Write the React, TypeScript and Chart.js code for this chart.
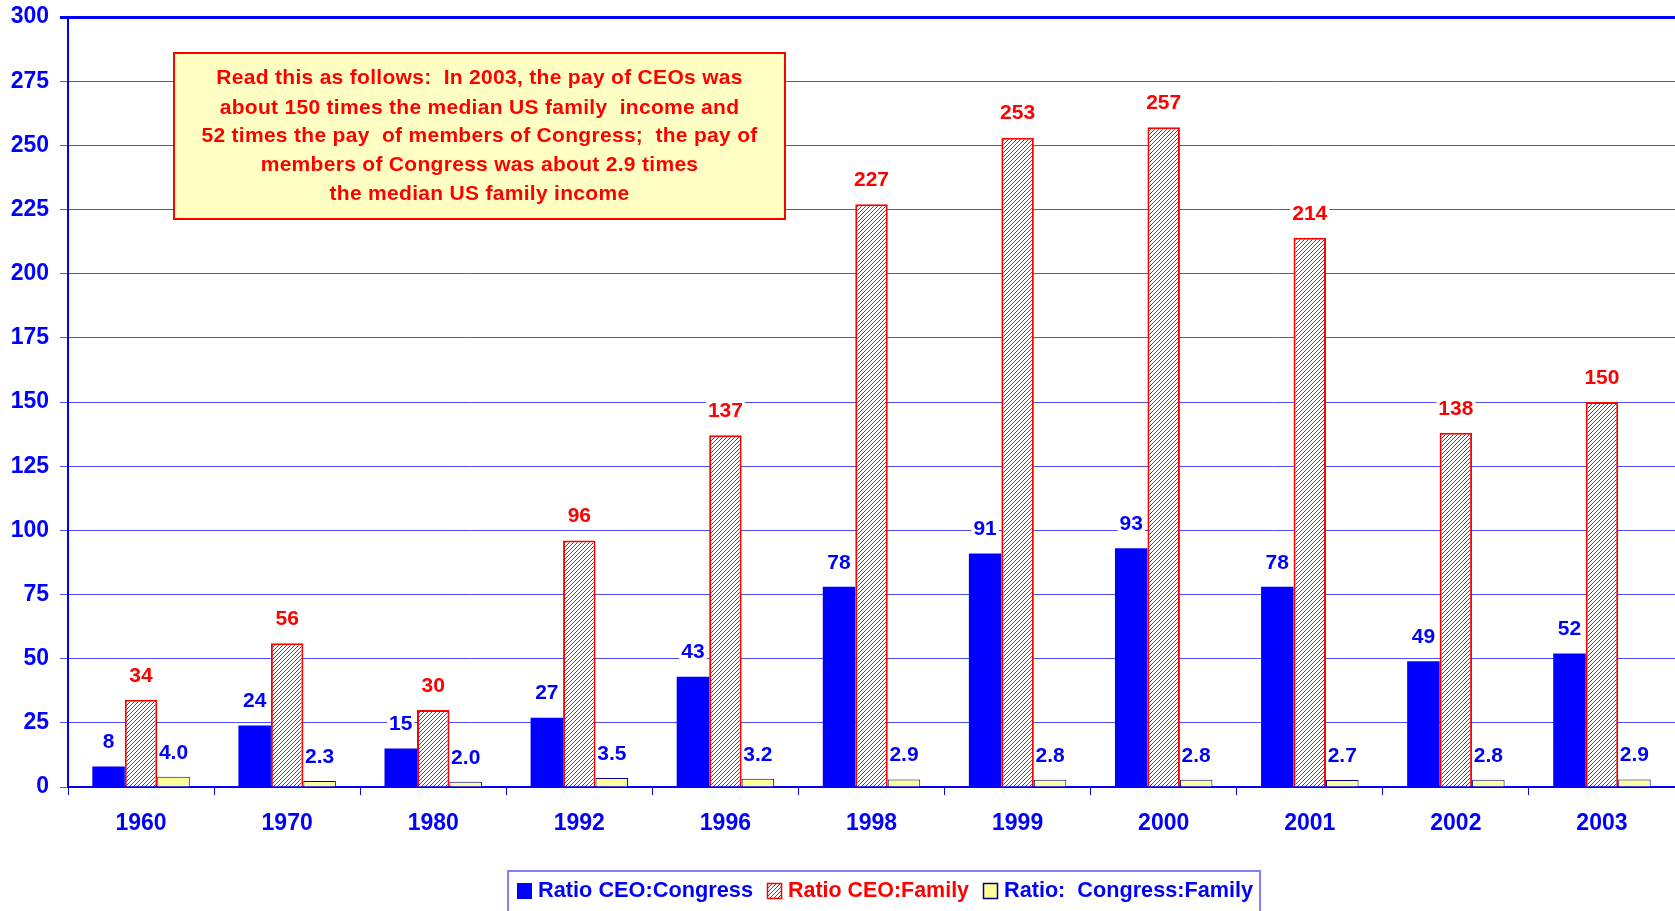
import React, { useEffect, useRef } from "react";
import { Chart, registerables } from "chart.js";

Chart.register(...registerables);

const categories = ["1960", "1970", "1980", "1992", "1996", "1998", "1999", "2000", "2001", "2002", "2003"];
const ceoCongress = [8, 24, 15, 27, 43, 78, 91, 93, 78, 49, 52];
const ceoFamily = [34, 56, 30, 96, 137, 227, 253, 257, 214, 138, 150];
const congressFamily = [4.0, 2.3, 2.0, 3.5, 3.2, 2.9, 2.8, 2.8, 2.7, 2.8, 2.9];
const seriesLabels = ["Ratio CEO:Congress", "Ratio CEO:Family", "Ratio:  Congress:Family"];
const yMin = 0;
const yMax = 300;
const yStep = 25;
const noteLines = [
  "Read this as follows:  In 2003, the pay of CEOs was",
  "about 150 times the median US family  income and",
  "52 times the pay  of members of Congress;  the pay of",
  "members of Congress was about 2.9 times",
  "the median US family income",
];

const BLUE = "#0000FF";
const RED = "#FF0000";
const FONT = "'Liberation Sans', Arial, sans-serif";

function makeHatch(): CanvasPattern | string {
  const c = document.createElement("canvas");
  c.width = 4;
  c.height = 4;
  const g = c.getContext("2d");
  if (!g) return "#ff9999";
  g.fillStyle = "#ffffff";
  g.fillRect(0, 0, 4, 4);
  g.strokeStyle = "#ff0000";
  g.lineWidth = 1;
  g.beginPath();
  g.moveTo(0, 4);
  g.lineTo(4, 0);
  g.moveTo(-1, 1);
  g.lineTo(1, -1);
  g.moveTo(3, 5);
  g.lineTo(5, 3);
  g.stroke();
  return g.createPattern(c, "repeat") || "#ff9999";
}

export default function App() {
  const ref = useRef<HTMLCanvasElement | null>(null);

  useEffect(() => {
    const canvas = ref.current;
    if (!canvas) return;
    const hatch = makeHatch();
    const labelColors = [BLUE, RED, BLUE];

    const valueLabels = {
      id: "valueLabels",
      afterDatasetsDraw(chart: any) {
        const ctx = chart.ctx;
        ctx.save();
        ctx.font = `bold 21px ${FONT}`;
        ctx.textAlign = "center";
        ctx.textBaseline = "middle";
        chart.data.datasets.forEach((ds: any, di: number) => {
          const meta = chart.getDatasetMeta(di);
          meta.data.forEach((el: any, i: number) => {
            const v = ds.data[i] as number;
            const txt = di === 2 ? v.toFixed(1) : String(v);
            const x = el.x;
            const y = el.y - 25;
            const w = ctx.measureText(txt).width;
            if (di !== 2) {
              ctx.fillStyle = "#ffffff";
              ctx.fillRect(x - w / 2 - 2, y - 9, w + 4, 18);
            }
            ctx.fillStyle = labelColors[di];
            ctx.fillText(txt, x, y + 1);
          });
        });
        ctx.restore();
      },
    };

    const note = {
      id: "note",
      afterDraw(chart: any) {
        const ctx = chart.ctx;
        const a = chart.chartArea;
        const left = a.left + 106;
        const top = 53;
        const w = 611;
        const h = 166;
        ctx.save();
        ctx.fillStyle = "#FFFFC4";
        ctx.fillRect(left, top, w, h);
        ctx.strokeStyle = RED;
        ctx.lineWidth = 2;
        ctx.strokeRect(left, top, w, h);
        ctx.fillStyle = RED;
        ctx.font = `bold 21px ${FONT}`;
        try {
          (ctx as any).letterSpacing = "0.3px";
        } catch (e) {}
        ctx.textAlign = "center";
        ctx.textBaseline = "middle";
        const ys = [78, 108, 136, 165, 194];
        noteLines.forEach((t, i) => ctx.fillText(t, left + w / 2, ys[i]));
        ctx.restore();
      },
    };

    const legendBox = {
      id: "legendBox",
      afterDraw(chart: any) {
        const ctx = chart.ctx;
        ctx.save();
        ctx.strokeStyle = "#8080FF";
        ctx.lineWidth = 2;
        ctx.strokeRect(508, 871, 752, 60);
        ctx.font = `bold 22px ${FONT}`;
        ctx.textBaseline = "middle";
        ctx.textAlign = "left";
        let x = 517;
        const cy = 891;
        chart.data.datasets.forEach((ds: any, di: number) => {
          ctx.fillStyle = ds.backgroundColor;
          ctx.fillRect(x, cy - 8, 15, 16);
          if (ds.borderWidth) {
            ctx.strokeStyle = ds.borderColor;
            ctx.lineWidth = 1.5;
            ctx.strokeRect(x + 0.5, cy - 7.5, 14, 15);
          }
          x += 21;
          ctx.fillStyle = labelColors[di];
          const tw = ctx.measureText(ds.label).width;
          const target = [215, 181, 249][di];
          ctx.save();
          ctx.translate(x, cy);
          ctx.scale(target / tw, 1);
          ctx.fillText(ds.label, 0, 0);
          ctx.restore();
          x += target + 14;
        });
        ctx.restore();
      },
    };

    const chart = new Chart(canvas, {
      type: "bar",
      data: {
        labels: categories,
        datasets: [
          {
            label: seriesLabels[0],
            data: ceoCongress,
            backgroundColor: BLUE,
            borderWidth: 0,
          },
          {
            label: seriesLabels[1],
            data: ceoFamily,
            backgroundColor: hatch as any,
            borderColor: RED,
            borderWidth: 2,
          },
          {
            label: seriesLabels[2],
            data: congressFamily,
            backgroundColor: "#FFFF99",
            borderColor: "#000080",
            borderWidth: 1,
          },
        ],
      },
      options: {
        responsive: false,
        animation: false,
        layout: { padding: { top: 17, right: 0, bottom: 0, left: 0 } },
        plugins: {
          legend: { display: false },
          tooltip: { enabled: false },
        },
        datasets: {
          bar: { categoryPercentage: 0.667, barPercentage: 1.0 },
        },
        scales: {
          x: {
            grid: {
              display: true,
              drawOnChartArea: false,
              drawTicks: true,
              tickLength: 8,
              color: BLUE,
              offset: true,
            },
            border: { display: true, color: BLUE, width: 2 },
            ticks: {
              color: BLUE,
              font: { family: FONT, size: 23, weight: "bold" },
              padding: 15,
              maxRotation: 0,
            },
            afterFit: (s: any) => {
              s.height = 124;
              s.paddingLeft = 0;
              s.paddingRight = 0;
            },
          },
          y: {
            min: yMin,
            max: yMax,
            grid: {
              color: (c: any) => (c.tick && c.tick.value === yMax ? BLUE : "#4D4DFF"),
              lineWidth: (c: any) => (c.tick && c.tick.value === yMax ? 3 : 1),
              tickLength: 8,
              drawTicks: true,
            },
            border: { display: true, color: BLUE, width: 2 },
            ticks: {
              stepSize: yStep,
              color: BLUE,
              font: { family: FONT, size: 23, weight: "bold", lineHeight: 1 },
              padding: 11,
            },
            afterFit: (s: any) => {
              s.width = 68;
              s.paddingTop = 0;
              s.paddingBottom = 0;
            },
          },
        },
      },
      plugins: [valueLabels, note, legendBox],
    } as any);

    return () => chart.destroy();
  }, []);

  return (
    <div style={{ position: "absolute", left: 0, top: 0, width: 1675, height: 911, background: "#ffffff" }}>
      <canvas ref={ref} width={1675} height={911} style={{ display: "block" }} />
    </div>
  );
}
